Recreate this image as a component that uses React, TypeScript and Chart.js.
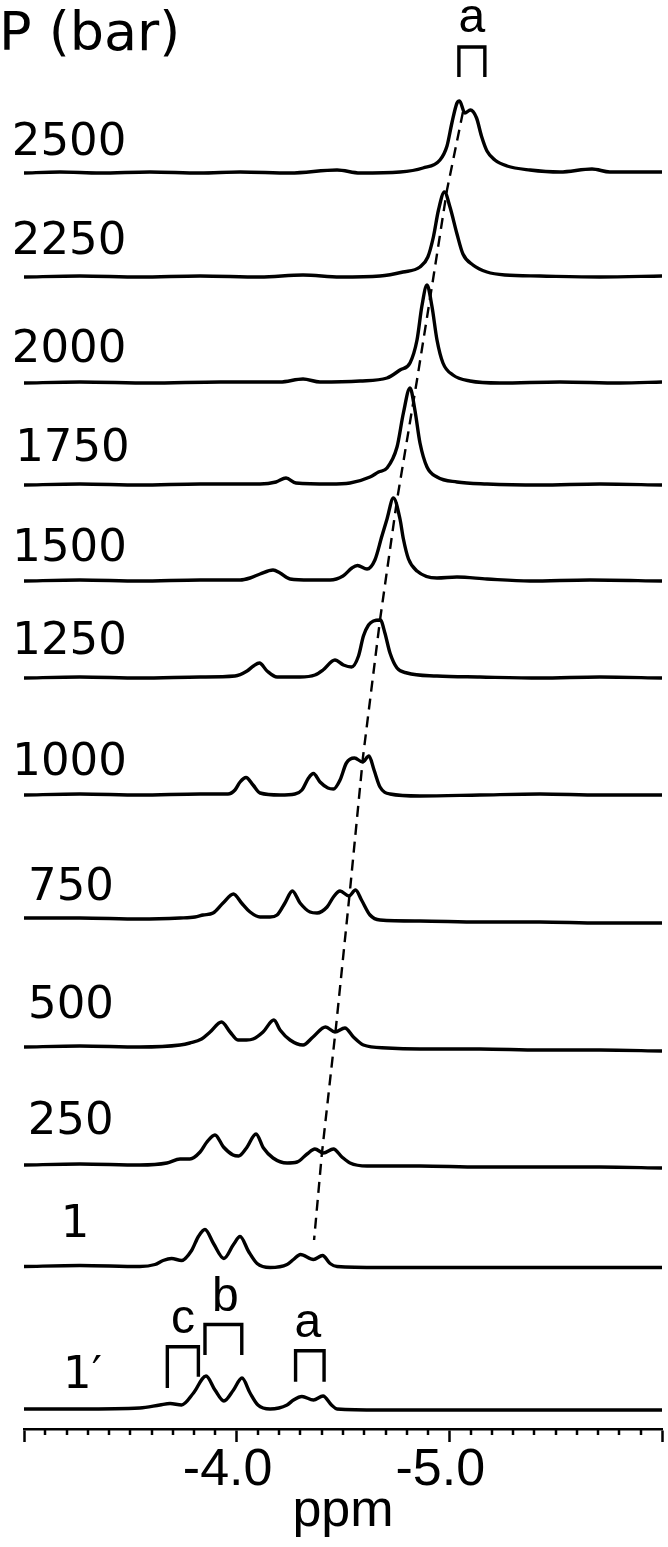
import React, { useEffect, useRef } from 'react';
import { Chart, registerables } from 'chart.js';

Chart.register(...registerables);

// ---------- pressure labels and vertical stacking of the spectra ----------
const pressureLabels = ['2500', '2250', '2000', '1750', '1500', '1250', '1000', '750', '500', '250', '1', '1\u2032'];
const traceOffsets = [1256, 1152, 1046, 944, 848, 751, 634, 509, 381, 264, 162.5, 20];
const labelPpm = [-3.212, -3.212, -3.212, -3.228, -3.214, -3.214, -3.214, -3.221, -3.221, -3.219, -3.24, -3.275];
const labelLevel = [1286, 1187, 1079, 980, 879.5, 787, 666, 541, 423, 307, 204, 53];

// ---------- spectra: chemical shift (ppm) and intensity ----------
const ppm2500 = [-3.0, -3.169, -3.357, -3.592, -3.828, -4.016, -4.251, -4.472, -4.58, -4.768, -4.876, -4.956, -4.989, -5.012, -5.036, -5.048, -5.073, -5.099, -5.128, -5.151, -5.177, -5.214, -5.271, -5.379, -5.52, -5.671, -5.755, -5.896, -6.0];
const int2500 = [0, 1, 0, 1, 0, 1, 0, 3, 0, 1, 5, 13, 27, 50, 70, 72, 60, 63, 55, 37, 22, 13, 7, 3, 1, 4, 1, 1, 1];

const ppm2250 = [-3.0, -3.263, -3.545, -3.828, -4.11, -4.312, -4.486, -4.674, -4.782, -4.862, -4.899, -4.925, -4.949, -4.977, -5.003, -5.036, -5.064, -5.111, -5.177, -5.262, -5.426, -5.708, -6.0];
const int2250 = [0, 1, 0, 1, 0, 2, 0, 1, 5, 10, 20, 40, 67, 85, 70, 43, 23, 12, 5, 2, 1, 0, 1];

const ppm2000 = [-3.0, -3.263, -3.592, -3.922, -4.204, -4.312, -4.392, -4.58, -4.707, -4.768, -4.815, -4.848, -4.871, -4.895, -4.918, -4.942, -4.97, -5.017, -5.097, -5.238, -5.52, -5.802, -6.0];
const int2000 = [0, 1, 0, 1, 1, 4, 1, 2, 5, 13, 20, 43, 77, 98, 77, 43, 20, 8, 2, 0, 1, 0, 1];

const ppm1750 = [-3.0, -3.263, -3.545, -3.828, -4.11, -4.185, -4.232, -4.279, -4.439, -4.533, -4.627, -4.667, -4.707, -4.754, -4.784, -4.815, -4.838, -4.862, -4.895, -4.942, -5.036, -5.177, -5.426, -5.708, -6.0];
const int1750 = [0, 1, 0, 1, 1, 3, 7, 2, 1, 2, 8, 13, 17, 38, 72, 97, 75, 42, 18, 8, 3, 1, 0, 1, 0];

const ppm1500 = [-3.0, -3.263, -3.545, -3.828, -4.016, -4.063, -4.11, -4.171, -4.204, -4.251, -4.345, -4.439, -4.5, -4.542, -4.568, -4.613, -4.65, -4.683, -4.707, -4.737, -4.768, -4.784, -4.808, -4.848, -4.942, -5.036, -5.177, -5.379, -5.661, -6.0];
const int1500 = [0, 1, 0, 1, 1, 3, 7, 11, 8, 2, 1, 1, 5, 13, 15.5, 12, 21, 45, 62, 83, 62, 42, 22, 10, 3, 4, 2, 0, 1, 0];

const ppm1250 = [-3.0, -3.263, -3.545, -3.828, -3.992, -4.049, -4.079, -4.107, -4.143, -4.19, -4.298, -4.368, -4.406, -4.462, -4.502, -4.54, -4.573, -4.596, -4.62, -4.643, -4.676, -4.697, -4.721, -4.754, -4.801, -4.942, -5.144, -5.426, -5.708, -6.0];
const int1250 = [0, 1, 0, 1, 2, 7, 12, 15, 7, 1, 1, 3, 8, 18, 13, 11, 22, 42, 53, 57, 58, 45, 25, 10, 5, 2, 1, 0, 1, 0];

const ppm1000 = [-3.0, -3.263, -3.545, -3.828, -3.959, -3.992, -4.016, -4.044, -4.077, -4.11, -4.204, -4.274, -4.307, -4.338, -4.361, -4.392, -4.429, -4.455, -4.486, -4.516, -4.554, -4.592, -4.622, -4.646, -4.674, -4.721, -4.862, -5.144, -5.426, -5.708, -6.0];
const int1000 = [0, 1, 0, 1, 1, 5, 13, 17.5, 10, 2, 0, 1, 5, 17, 21.5, 13, 7, 6, 15, 32, 37, 33, 39, 25, 8, 1, -1, 0, 1, 0, 0];

const ppm750 = [-3.0, -3.263, -3.545, -3.734, -3.804, -3.842, -3.889, -3.936, -3.985, -4.023, -4.063, -4.11, -4.157, -4.19, -4.227, -4.262, -4.298, -4.345, -4.378, -4.425, -4.455, -4.486, -4.528, -4.559, -4.587, -4.627, -4.674, -4.862, -5.144, -5.426, -5.708, -6.0];
const int750 = [2, 2, 1, 2, 3, 5, 7, 17, 26, 17, 8, 3, 3, 5, 17, 29, 17, 8, 7, 13, 23, 29, 24, 30, 20, 5, 0, -1, -2, -2, -3, -3];

const ppm500 = [-3.0, -3.263, -3.545, -3.734, -3.78, -3.835, -3.875, -3.929, -3.969, -4.006, -4.046, -4.077, -4.124, -4.175, -4.204, -4.251, -4.312, -4.359, -4.418, -4.462, -4.509, -4.549, -4.596, -4.707, -4.862, -5.144, -5.426, -5.708, -6.0];
const int500 = [1, 2, 1, 3, 5, 9, 16, 26, 16, 8, 8, 9, 16, 28, 18, 8, 3, 11, 21, 16, 20, 11, 3, 0, -1, -1, -2, -2, -3];

const ppm250 = [-3.0, -3.263, -3.545, -3.672, -3.734, -3.78, -3.828, -3.86, -3.898, -3.938, -3.983, -4.009, -4.046, -4.091, -4.126, -4.171, -4.237, -4.284, -4.331, -4.368, -4.408, -4.455, -4.495, -4.533, -4.613, -4.862, -5.144, -5.426, -5.708, -6.0];
const int250 = [0, 1, 0, 2, 6, 6, 13, 23, 30, 18, 10, 9, 17, 31, 17, 7, 2, 3, 11, 16, 12, 16, 8, 2, -1, -1, -2, -2, -2, -3];

const ppm1 = [-3.0, -3.263, -3.545, -3.616, -3.654, -3.694, -3.741, -3.788, -3.82, -3.851, -3.891, -3.94, -3.985, -4.016, -4.056, -4.096, -4.157, -4.237, -4.267, -4.3, -4.361, -4.404, -4.439, -4.472, -4.674, -4.956, -5.238, -5.52, -5.802, -6.0];
const int1 = [0, 1, 0, 2, 6, 8, 6, 16, 30, 37, 23, 8, 22, 30, 15, 3, -1, 2, 7, 12, 7, 11, 3, 0, -1, -1, -1, -1, -1, -1];

const ppm1p = [-3.0, -3.263, -3.545, -3.639, -3.687, -3.741, -3.797, -3.856, -3.898, -3.94, -3.985, -4.025, -4.063, -4.1, -4.157, -4.237, -4.267, -4.307, -4.361, -4.406, -4.446, -4.472, -4.674, -4.956, -5.238, -5.52, -5.802, -6.0];
const int1p = [0, 0, 1, 4, 5.5, 4, 16, 33, 19, 8, 19, 31, 16, 4, 0, 4, 9, 12.5, 9, 13, 4, 0, -1, -1, -1, -1, -1, -1];

// ---------- dashed guide through peak a ----------
const guidePpm = [-5.064, -4.989, -4.923, -4.848, -4.754, -4.674, -4.594, -4.533, -4.467, -4.401, -4.364];
const guideLevel = [1317, 1239, 1149, 1049, 929, 809, 672, 539, 402, 276, 189];

// ---------- peak brackets and their letters ----------
const bracketLeftPpm = [-5.045, -3.674, -3.851, -4.277];
const bracketRightPpm = [-5.167, -3.82, -4.024, -4.411];
const bracketTop = [1382, 82.3, 104.5, 78.3];
const bracketLeftFoot = [1352, 41, 74, 47.3];
const bracketRightFoot = [1352, 52.3, 74, 47.3];
const letterText = ['a', 'c', 'b', 'a'];
const letterPpm = [-5.106, -3.748, -3.947, -4.335];
const letterLevel = [1397, 96, 118, 92];

// ---------- axis ----------
const axisMin = -6.0;
const axisMax = -3.0;
const majorTickValues = [-3, -4, -5, -6];
const tickLabelValues = [-4, -5];
const tickLabelTexts = ['-4.0', '-5.0'];
const axisTitle = 'ppm';
const yTitle = 'P (bar)';
const yTitlePpm = -2.882;
const yTitleLevel = 1379;

const spectra = [
  [ppm2500, int2500], [ppm2250, int2250], [ppm2000, int2000], [ppm1750, int1750],
  [ppm1500, int1500], [ppm1250, int1250], [ppm1000, int1000], [ppm750, int750],
  [ppm500, int500], [ppm250, int250], [ppm1, int1], [ppm1p, int1p],
];

const near = (a: number, b: number) => Math.abs(a - b) < 1e-6;
const isMajor = (v: number) => majorTickValues.some((m) => near(m, v));

const SANS = '"Liberation Sans", Arial, sans-serif';
const VERD = '"DejaVu Sans", Verdana, sans-serif';

const textPlugin = {
  id: 'nmrText',
  afterDatasetsDraw(chart: any) {
    const { ctx } = chart;
    const x = chart.scales.x;
    const y = chart.scales.y;
    ctx.save();
    ctx.fillStyle = '#000';
    ctx.font = `45px ${VERD}`;
    ctx.textAlign = 'center';
    ctx.textBaseline = 'middle';
    pressureLabels.forEach((t, i) => {
      ctx.fillText(t, x.getPixelForValue(labelPpm[i]), y.getPixelForValue(labelLevel[i]));
    });
    ctx.font = `54px ${VERD}`;
    ctx.textAlign = 'left';
    ctx.textBaseline = 'alphabetic';
    ctx.fillText(yTitle, x.getPixelForValue(yTitlePpm), y.getPixelForValue(yTitleLevel));
    ctx.font = `48px ${SANS}`;
    ctx.textAlign = 'center';
    letterText.forEach((t, i) => {
      ctx.fillText(t, x.getPixelForValue(letterPpm[i]), y.getPixelForValue(letterLevel[i]));
    });
    ctx.restore();
  },
  afterDraw(chart: any) {
    const { ctx } = chart;
    const x = chart.scales.x;
    ctx.save();
    ctx.strokeStyle = '#000';
    ctx.lineWidth = 2.5;
    x.ticks.forEach((t: any) => {
      if (isMajor(t.value)) return;
      const px = Math.round(x.getPixelForValue(t.value));
      ctx.beginPath();
      ctx.moveTo(px, x.top);
      ctx.lineTo(px, x.top + 6);
      ctx.stroke();
    });
    ctx.restore();
  },
};

export default function App() {
  const ref = useRef<HTMLCanvasElement>(null);
  useEffect(() => {
    if (!ref.current) return;
    const datasets: any[] = spectra.map(([p, v], i) => ({
      data: p.map((pp, k) => ({ x: pp, y: traceOffsets[i] + v[k] })),
      borderColor: '#000',
      borderWidth: 3.4,
      pointRadius: 0,
      fill: false,
      cubicInterpolationMode: 'monotone',
    }));
    datasets.push({
      data: guidePpm.map((pp, k) => ({ x: pp, y: guideLevel[k] })),
      borderColor: '#000',
      borderWidth: 2.4,
      borderDash: [11, 7],
      pointRadius: 0,
      fill: false,
      tension: 0,
    });
    bracketLeftPpm.forEach((l, i) => {
      datasets.push({
        data: [
          { x: l, y: bracketLeftFoot[i] },
          { x: l, y: bracketTop[i] },
          { x: bracketRightPpm[i], y: bracketTop[i] },
          { x: bracketRightPpm[i], y: bracketRightFoot[i] },
        ],
        borderColor: '#000',
        borderWidth: 3.4,
        pointRadius: 0,
        fill: false,
        tension: 0,
        borderJoinStyle: 'miter',
      });
    });

    const chart = new Chart(ref.current, {
      type: 'line',
      data: { datasets },
      options: {
        animation: false,
        responsive: true,
        maintainAspectRatio: false,
        events: [],
        layout: { padding: { left: 24, right: 6, top: 0, bottom: 0 } },
        plugins: { legend: { display: false }, tooltip: { enabled: false } },
        scales: {
          x: {
            type: 'linear',
            min: axisMin,
            max: axisMax,
            reverse: true,
            afterFit: (s: any) => {
              s.height = 118;
            },
            grid: {
              display: true,
              drawOnChartArea: false,
              drawTicks: true,
              tickLength: 13,
              tickWidth: 2.5,
              tickColor: (c: any) => (c.tick && isMajor(c.tick.value) ? '#000' : 'rgba(0,0,0,0)'),
            },
            border: { display: true, color: '#000', width: 2.5 },
            ticks: {
              stepSize: 0.1,
              autoSkip: false,
              maxRotation: 0,
              padding: 0,
              labelOffset: -9,
              color: '#000',
              font: { family: SANS, size: 52, lineHeight: 1.1 },
              callback: (value: any) => {
                const i = tickLabelValues.findIndex((m) => near(m, Number(value)));
                return i >= 0 ? tickLabelTexts[i] : '';
              },
            },
            title: {
              display: true,
              text: axisTitle,
              color: '#000',
              font: { family: SANS, size: 52, lineHeight: 1.2 },
              padding: { top: 0, bottom: 4 },
            },
          },
          y: {
            type: 'linear',
            display: false,
            min: 0,
            max: 1429,
          },
        },
      },
      plugins: [textPlugin],
    } as any);
    return () => chart.destroy();
  }, []);

  return (
    <div style={{ position: 'absolute', left: 0, top: 0, width: 668, height: 1547, background: '#fff' }}>
      <canvas ref={ref} />
    </div>
  );
}
